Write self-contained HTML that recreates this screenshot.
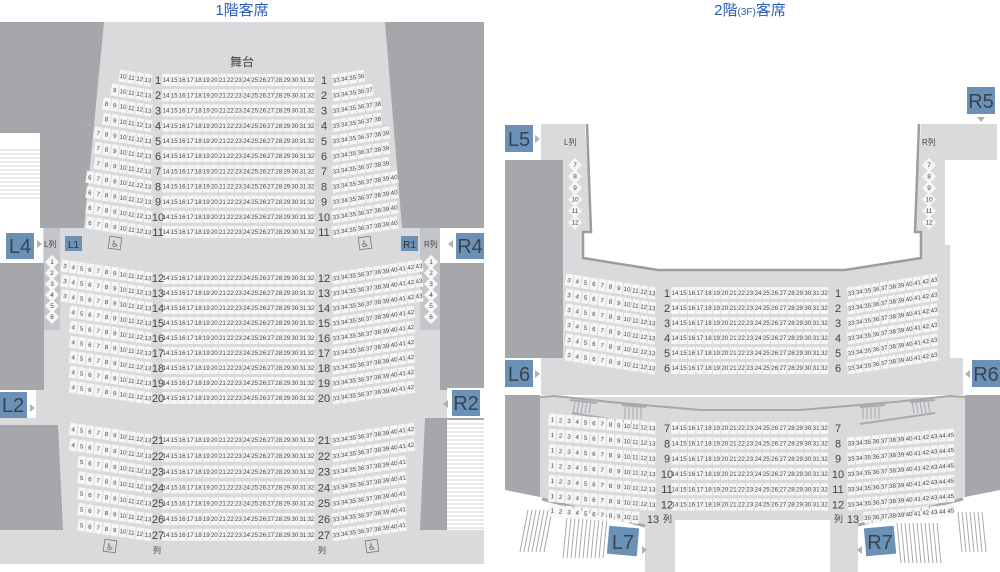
<!DOCTYPE html>
<html><head><meta charset="utf-8"><style>
html,body{margin:0;padding:0;background:#fff;width:1000px;height:572px;overflow:hidden}
svg{display:block;font-family:"Liberation Sans","Noto Sans CJK JP",sans-serif}
.wc{font-family:"DejaVu Sans",sans-serif}
</style></head><body>
<svg id="m" width="1000" height="572" viewBox="0 0 1000 572" xmlns="http://www.w3.org/2000/svg">
<rect x="0" y="22" width="484" height="544" fill="#d9dadc"/>
<polygon points="0,22 104,22 84,228 0,228" fill="#a6a7aa"/>
<polygon points="385,22 484,22 484,228 402,228" fill="#a6a7aa"/>
<rect x="0" y="133" width="40" height="100" fill="#fff"/>
<g stroke="#cfd0d2" stroke-width="1"><line x1="0" y1="150" x2="40" y2="150"/><line x1="0" y1="154" x2="40" y2="154"/><line x1="0" y1="158" x2="40" y2="158"/><line x1="0" y1="162" x2="40" y2="162"/><line x1="0" y1="166" x2="40" y2="166"/><line x1="0" y1="170" x2="40" y2="170"/><line x1="0" y1="174" x2="40" y2="174"/><line x1="0" y1="178" x2="40" y2="178"/><line x1="0" y1="182" x2="40" y2="182"/><line x1="0" y1="186" x2="40" y2="186"/><line x1="0" y1="190" x2="40" y2="190"/><line x1="0" y1="194" x2="40" y2="194"/><line x1="0" y1="198" x2="40" y2="198"/></g>
<rect x="0" y="228" width="43" height="35" fill="#fff"/>
<rect x="0" y="263" width="44" height="127" fill="#a6a7aa"/>
<polygon points="44,228 60,228 60,330 44,330" fill="#c4c5c8"/>
<rect x="0" y="390" width="36" height="28" fill="#fff"/>
<polygon points="0,425 58,425 63,530 0,530" fill="#a6a7aa"/>
<rect x="440" y="228" width="44" height="35" fill="#fff"/>
<rect x="440" y="263" width="44" height="127" fill="#a6a7aa"/>
<polygon points="420,228 440,228 440,330 420,330" fill="#c4c5c8"/>
<rect x="447" y="388" width="37" height="30" fill="#fff"/>
<polygon points="425,418 484,418 484,530 420,530" fill="#a6a7aa"/>
<rect x="447" y="420" width="37" height="110" fill="#fff"/>
<g id="st1" stroke="#cfd0d2" stroke-width="1"></g>
<line x1="0" y1="565" x2="484" y2="565" stroke="#fff" stroke-width="2"/>
<text x="242" y="66" font-size="12" text-anchor="middle" fill="#444">舞台</text>
<line x1="85" y1="125" x2="395" y2="125" stroke="#c2c3c5" stroke-width="0.7" stroke-dasharray="2,2"/>

<polygon points="541,124 585,124 591,232 583,232 583,258 658,270 845,270 921,258 921,232 915,232 921,124 997,124 997,160 945,160 945,245 950,245 950,358 963,358 963,395 541,395 541,358 557,358 557,245 563,245 563,160 541,160" fill="#d9dadc"/>
<polyline points="587,124 591,232 583,232 583,258 658,270 845,270 921,258 921,232 915,232 919,124" fill="none" stroke="#9c9da0" stroke-width="2.5"/>
<rect x="505" y="160" width="58" height="198" fill="#a6a7aa"/>
<polygon points="505,395 540,395 540,497 505,490" fill="#a6a7aa"/>
<polygon points="965,395 1000,395 1000,490 965,497" fill="#a6a7aa"/>
<polygon points="540,397 965,397 965,497 858,522 858,572 830,572 830,520 675,520 675,572 645,572 645,525 540,497" fill="#d9dadc"/>
<polyline points="540,397 555,396 610,402 700,410 800,410 895,402 950,396 965,397" fill="none" stroke="#a6a7aa" stroke-width="2"/>
<line x1="542" y1="499" x2="645" y2="526" stroke="#a6a7aa" stroke-width="3"/>
<line x1="858" y1="525" x2="963" y2="499" stroke="#a6a7aa" stroke-width="3"/>
<g id="st2" stroke="#a9aaad" stroke-width="1"></g>

<text x="242" y="15" font-size="15" text-anchor="middle" fill="#2a5db8">1階客席</text>
<text x="750" y="15" font-size="15" text-anchor="middle" fill="#2a5db8">2階<tspan font-size="10">(3F)</tspan>客席</text>

<g font-size="20" fill="#3a4350" text-anchor="middle">
<rect x="6" y="233" width="28" height="26" fill="#6c91b7"/><text x="20" y="253">L4</text>
<rect x="0" y="392" width="27" height="26" fill="#6c91b7"/><text x="13" y="412">L2</text>
<rect x="456" y="233" width="28" height="26" fill="#6c91b7"/><text x="470" y="253">R4</text>
<rect x="452" y="390" width="28" height="26" fill="#6c91b7"/><text x="466" y="410">R2</text>
<rect x="505" y="125" width="28" height="27" fill="#6c91b7"/><text x="519" y="146">L5</text>
<rect x="967" y="87" width="28" height="27" fill="#6c91b7"/><text x="981" y="108">R5</text>
<rect x="505" y="360" width="28" height="27" fill="#6c91b7"/><text x="519" y="381">L6</text>
<rect x="972" y="360" width="28" height="27" fill="#6c91b7"/><text x="986" y="381">R6</text>
<rect x="608" y="527" width="30" height="28" fill="#6c91b7" transform="rotate(5 623 541)"/><text x="623" y="549">L7</text>
<rect x="865" y="527" width="30" height="28" fill="#6c91b7" transform="rotate(-5 880 541)"/><text x="880" y="549">R7</text>
</g>
<g fill="#b0b1b4">
<polygon points="37,240 37,248 42,244"/><polygon points="30,404 30,412 35,408"/><polygon points="453,240 453,248 448,244"/><polygon points="448,400 448,408 443,404"/>
<polygon points="535,135 535,143 540,139"/><polygon points="977,117 985,117 981,122"/><polygon points="535,370 535,378 540,374"/><polygon points="970,370 970,378 965,374"/>
<polygon points="642,546 642,554 647,550"/><polygon points="862,546 862,554 857,550"/>
</g>
<rect x="65" y="236" width="17" height="15" fill="#6c91b7"/><text x="73.5" y="248" font-size="10" text-anchor="middle" fill="#333">L1</text>
<rect x="401" y="236" width="17" height="15" fill="#6c91b7"/><text x="409.5" y="248" font-size="10" text-anchor="middle" fill="#333">R1</text>
<g font-size="8" fill="#444">
<text x="44" y="247">L列</text><text x="424" y="247">R列</text>
<text x="564" y="145">L列</text><text x="922" y="145">R列</text>
<text x="153" y="553">列</text><text x="318" y="553">列</text>
<text x="663" y="522" font-size="9">列</text><text x="834" y="522" font-size="9">列</text>
</g>
<g fill="#666" text-anchor="middle">
<rect x="109" y="237" width="12" height="12" fill="none" stroke="#777" stroke-width="0.8" transform="rotate(8 115 243)"/><text class="wc" x="115" y="247" font-size="9">♿&#xFE0E;</text>
<rect x="359" y="237" width="12" height="12" fill="none" stroke="#777" stroke-width="0.8" transform="rotate(-8 365 243)"/><text class="wc" x="365" y="247" font-size="9">♿&#xFE0E;</text>
<rect x="104" y="540" width="12" height="12" fill="none" stroke="#777" stroke-width="0.8" transform="rotate(8 110 546)"/><text class="wc" x="110" y="550" font-size="9">♿&#xFE0E;</text>
<rect x="366" y="540" width="12" height="12" fill="none" stroke="#777" stroke-width="0.8" transform="rotate(-8 372 546)"/><text class="wc" x="372" y="550" font-size="9">♿&#xFE0E;</text>
</g>
<g id="seats" fill="#444"></g>
</svg>
<script>
var o='';
function S(x,y,n,r){o+='<g transform="translate('+x.toFixed(1)+','+y.toFixed(1)+') rotate('+r+')"><rect x="-3.7" y="-6" width="7.4" height="12" fill="#f6f6f6"/><text y="2.2" font-size="6.2" text-anchor="middle" fill="#444">'+n+'</text></g>';}
function D(x,y,n){o+='<g transform="translate('+x+','+y+')"><rect x="-5" y="-5" width="10" height="10" fill="#f6f6f6" transform="rotate(45)"/><text y="2.2" font-size="6.5" text-anchor="middle" fill="#444">'+n+'</text></g>';}
function T(x,y,t,s){o+='<text x="'+x+'" y="'+(y+4)+'" font-size="'+(s||11)+'" text-anchor="middle" fill="#444">'+t+'</text>';}
function row(y,la,lb,rb,lx,rx,cx0,cp,nl,nr,p,k,showC,lr,rr){
 var a=Math.atan(k/p)*180/Math.PI;
 if(la) for(var n=la;n<=lb;n++){var d=lb-n;S(lx-d*p,y-d*k,n,a.toFixed(1));}
 if(showC) for(var n=14;n<=32;n++)S(cx0+(n-14)*cp,y,n,0);
 if(rr) for(var n=33;n<=rb;n++){var d=n-33;S(rx+d*p,y-d*k,n,(-a).toFixed(1));}
}
var L1=[10,9,8,8,7,7,7,6,6,6,6],R1=[36,37,38,38,39,39,39,40,40,40,40];
for(var i=1;i<=11;i++){var y=80+(i-1)*15.2;row(y,L1[i-1],13,R1[i-1],148,336,166,8.05,0,0,8.3,1.3,1,1,1);T(158,y,i,11);T(324,y,i,11);}
for(var i=12;i<=20;i++){var y=278+(i-12)*15;row(y,i<=14?3:4,13,i<=14?43:42,148,336,166,8.05,0,0,8.3,1.2,1,1,1);T(158,y,i,11);T(324,y,i,11);}
for(var i=21;i<=27;i++){var y=440+(i-21)*15.8;row(y,i<=22?4:5,13,i<=22?42:41,148,336,166,8.05,0,0,8.3,1.2,1,1,1);T(158,y,i,11);T(324,y,i,11);}
for(var i=1;i<=6;i++){D(52,262+(i-1)*11,i);D(431,262+(i-1)*11,i);}
for(var i=1;i<=6;i++){var y=293+(i-1)*15;row(y,3,13,43,652,851,675,8.3,0,0,8.3,1.3,1,1,1);T(667,y,i,11);T(838,y,i,11);}
for(var i=7;i<=12;i++){var y=428+(i-7)*15.3;row(y,1,13,45,652,851,675,8.3,0,0,8.3,0.7,1,1,i>7);T(667,y,i,11);T(838,y,i,11);}
(function(){var y=519,p=8.3,k=0.7,a=(Math.atan(k/p)*180/Math.PI).toFixed(1);for(var n=1;n<=11;n++){var d=13-n;S(652-d*p,y-d*k,n,a);}for(var n=35;n<=45;n++){var d=n-33;S(851+d*p,y-d*k,n,-a);}T(653,y,13,11);T(853,y,13,11);})();
for(var i=7;i<=12;i++){D(575,165+(i-7)*11.5,i);D(929,165+(i-7)*11.5,i);}
document.getElementById('seats').innerHTML=o;
var s='';for(var y=424;y<530;y+=4)s+='<line x1="447" y1="'+y+'" x2="484" y2="'+y+'"/>';document.getElementById('st1').innerHTML=s;
s='';
function H(x1,y1,x2,y2,n,dx){for(var i=0;i<n;i++)s+='<line x1="'+(x1+i*dx)+'" y1="'+y1+'" x2="'+(x2+i*dx)+'" y2="'+y2+'"/>';}
H(575,402,573,413,5,4);H(625,407,625,419,5,4);H(863,407,863,419,5,4);H(912,402,914,413,5,4);
H(528,510,520,552,7,4);H(567,518,563,558,11,4);H(897,523,901,563,11,4);H(958,512,962,552,7,4);
s+='<line x1="570" y1="400" x2="597" y2="403" stroke-width="2"/><line x1="572" y1="413" x2="645" y2="425" stroke-width="2"/><line x1="622" y1="405" x2="646" y2="407" stroke-width="2"/><line x1="860" y1="407" x2="885" y2="405" stroke-width="2"/><line x1="860" y1="424" x2="935" y2="413" stroke-width="2"/><line x1="910" y1="402" x2="935" y2="400" stroke-width="2"/>';
document.getElementById('st2').innerHTML=s;
</script>
</body></html>
